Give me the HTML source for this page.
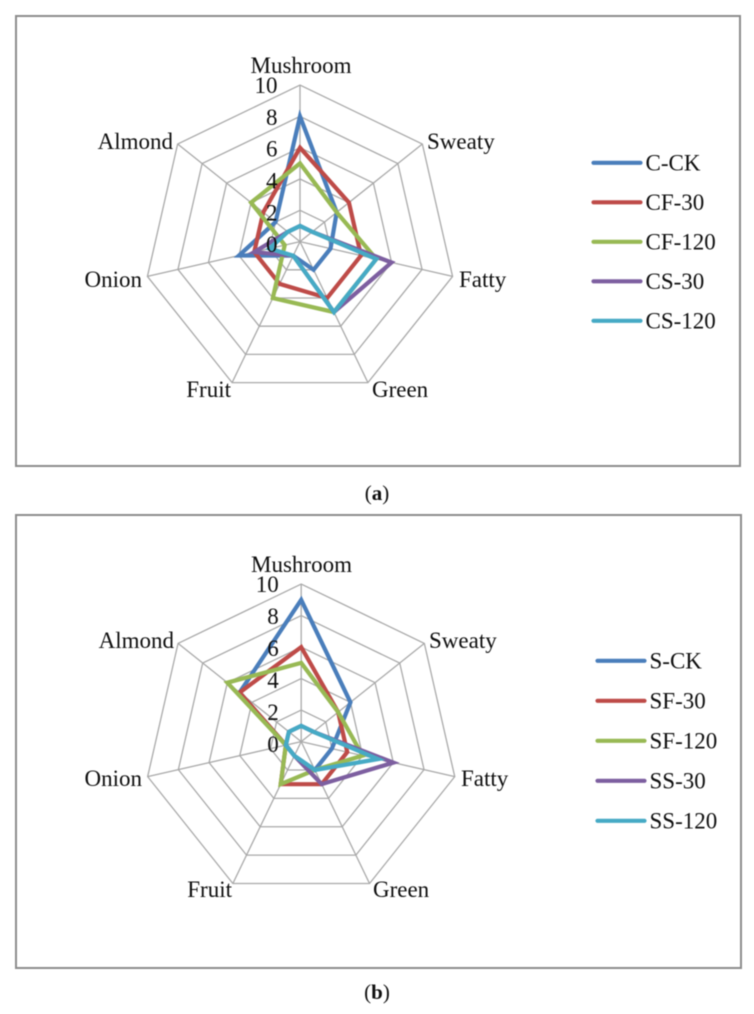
<!DOCTYPE html>
<html>
<head>
<meta charset="utf-8">
<title>Radar charts</title>
<style>
html,body{margin:0;padding:0;background:#fff;width:754px;height:1014px;overflow:hidden}
svg{display:block;font-family:"Liberation Serif",serif;fill:#0f0f0f;filter:blur(0.45px)}
</style>
</head>
<body>
<svg id="root" xmlns="http://www.w3.org/2000/svg" width="754" height="1014" viewBox="0 0 754 1014">
<rect x="16" y="16" width="724" height="450" fill="#fff" stroke="#8c8c8c" stroke-width="2"/>
<rect x="16" y="515" width="725" height="453" fill="#fff" stroke="#8c8c8c" stroke-width="2"/>
<text x="377" y="500" font-size="21" text-anchor="middle">(<tspan font-weight="bold">a</tspan>)</text>
<text x="377" y="999" font-size="21" text-anchor="middle">(<tspan font-weight="bold">b</tspan>)</text>
</svg>
<script>
const categories = ["Mushroom","Sweaty","Fatty","Green","Fruit","Onion","Almond"];
const tickValues = [0,2,4,6,8,10];
const axisMax = 10;
const seriesColors = ["#4a7ebb","#be4b48","#98b954","#7d5fa0","#46aac5"];

const namesA = ["C-CK","CF-30","CF-120","CS-30","CS-120"];
const cCK   = [8,3,2,2,1,4,2];
const cF30  = [6,4,4,4,3,3,3];
const cF120 = [5,3,5,5,4,1,4];
const cS30  = [1,1,6,5,1,3,1];
const cS120 = [1,1,5,5,1,2,1];

const namesB = ["S-CK","SF-30","SF-120","SS-30","SS-120"];
const sCK   = [9,4,2,2,1,1,5];
const sF30  = [6,3,3,3,3,1,5];
const sF120 = [5,3,4,2,3,1,6];
const sS30  = [1,1,6,3,1,1,1];
const sS120 = [1,1,5,2,1,1,1];

const NS = "http://www.w3.org/2000/svg";
const root = document.getElementById("root");

function mk(tag, attrs, parent, text){
  const el = document.createElementNS(NS, tag);
  for (const k in attrs) el.setAttribute(k, attrs[k]);
  if (text !== undefined) el.textContent = text;
  parent.appendChild(el);
  return el;
}

function drawRadar(prefix, cfg, names, seriesList){
  const g = mk("g", {}, root);
  
  
  const n = categories.length;
  const angle = i => -Math.PI/2 + i*2*Math.PI/n;
  const px = (i,v) => cfg.cx + Math.cos(angle(i))*v/axisMax*cfg.r;
  const py = (i,v) => cfg.cy + Math.sin(angle(i))*v/axisMax*cfg.r;

  // spokes
  categories.forEach((c,i)=>{
    const s = mk("line",{x1:cfg.cx,y1:cfg.cy,x2:px(i,axisMax),y2:py(i,axisMax),stroke:"#a9a9a9","stroke-width":1.3},g);
    
    
  });
  // grid rings
  tickValues.filter(t=>t>0).forEach(t=>{
    const pts = categories.map((c,i)=>px(i,t).toFixed(2)+","+py(i,t).toFixed(2)).join(" ");
    const ring = mk("polygon",{points:pts,fill:"none",stroke:"#a9a9a9","stroke-width":1.3},g);
    
    
  });
  // series
  seriesList.forEach((vals,si)=>{
    const pts = vals.map((v,i)=>px(i,v).toFixed(2)+","+py(i,v).toFixed(2)).join(" ");
    const p = mk("polygon",{points:pts,fill:"none",stroke:seriesColors[si],"stroke-width":4.2,"stroke-linejoin":"miter"},g);
    
    
  });
  // tick labels
  tickValues.forEach(t=>{
    const y = cfg.cy - t/axisMax*cfg.r + 8 + (axisMax-t)/axisMax*2.5;
    const tl = mk("text",{x:cfg.cx-22.5,y:y,"font-size":23,"text-anchor":"end"},g,String(t));
    
    
  });
  // category labels
  categories.forEach((c,i)=>{
    const pos = cfg.labels[i];
    const t = mk("text",{x:pos[0],y:pos[1],"font-size":23,"text-anchor":pos[2]},g,c);
    
    
  });
  // legend
  names.forEach((nm,si)=>{
    const y = cfg.legendY0 + si*cfg.legendStep;
    const entry = mk("g",{},g);
    
    
    mk("line",{x1:cfg.legendX,y1:y,x2:cfg.legendX+47,y2:y,stroke:seriesColors[si],"stroke-width":4.2,"stroke-linecap":"round"},entry);
    mk("text",{x:cfg.legendX+52,y:y+7.5,"font-size":23},entry,nm);
  });
}

drawRadar("chart-a",{
  cx:300,cy:241.6,r:156.5,legendX:593.5,legendY0:162.8,legendStep:39.5,
  labels:[[301,73,"middle"],[427,149,"start"],[459,287,"start"],[372,397,"start"],[231,397,"end"],[142,287,"end"],[173,149,"end"]]
}, namesA, [cCK,cF30,cF120,cS30,cS120]);

drawRadar("chart-b",{
  cx:301.2,cy:741.6,r:157.5,legendX:597.5,legendY0:660.8,legendStep:40,
  labels:[[301.5,572,"middle"],[429,648,"start"],[461,786,"start"],[373,897,"start"],[232,897,"end"],[142,786,"end"],[174,648,"end"]]
}, namesB, [sCK,sF30,sF120,sS30,sS120]);
</script>
</body>
</html>
